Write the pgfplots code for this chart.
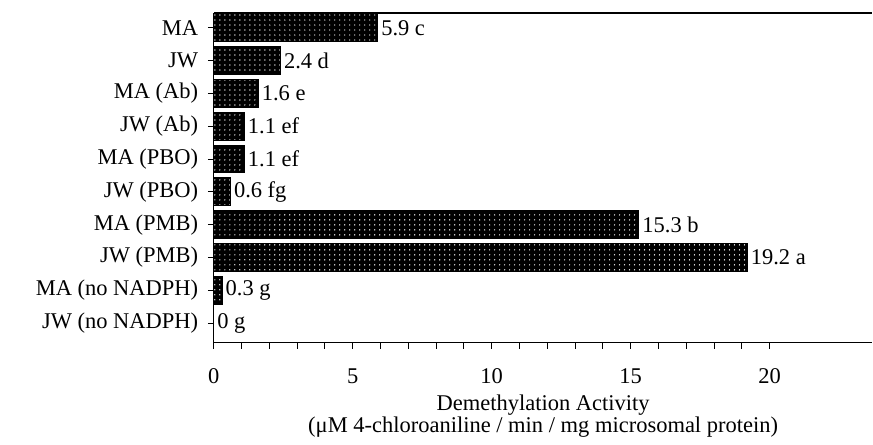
\documentclass[border=0pt]{standalone}
\usepackage{pgfplots}
\pgfplotsset{compat=1.18}
\usepackage{pgfplotstable}
\usepackage{fontspec}
\setmainfont{Liberation Serif}
\usetikzlibrary{patterns.meta}
\pgfplotstableread[col sep=comma]{
y,v,lab
9,5.9,5.9 c
8,2.4,2.4 d
7,1.6,1.6 e
6,1.1,1.1 ef
5,1.1,1.1 ef
4,0.6,0.6 fg
3,15.3,15.3 b
2,19.2,19.2 a
1,0.3,0.3 g
0,0,0 g
}\datatable
\begin{document}
\fontsize{22.5pt}{24pt}\selectfont
\begin{tikzpicture}
\begin{axis}[
  scale only axis,
  width=659pt, height=330pt,
  xmin=0, xmax=23.7,
  ymin=-0.6, ymax=9.45,
  axis x line*=bottom, axis y line*=left,
  axis line style={line width=1.2pt},
  xbar, bar width=28pt,
  xtick={0,5,10,15,20},
  minor x tick num=4,
  ytick={0,...,9},
  yticklabels={JW (no NADPH),MA (no NADPH),JW (PMB),MA (PMB),JW (PBO),MA (PBO),JW (Ab),MA (Ab),JW,MA},
  tick align=outside,
  major tick length=6pt, minor tick length=6pt,
  tick style={line width=1pt, black},
  minor tick style={line width=1pt, black},
  every tick label/.append style={font=\fontsize{22.5pt}{24pt}\selectfont},
  /pgf/number format/assume math mode=true,
  xticklabel style={yshift=-12pt},
  yticklabel style={xshift=-2pt},
  xlabel={Demethylation Activity\\(μM 4-chloroaniline / min / mg microsomal protein)},
  xlabel style={align=center, font=\fontsize{22.5pt}{22pt}\selectfont, yshift=4pt},
  point meta=explicit symbolic,
  nodes near coords={\pgfplotspointmeta},
  nodes near coords style={anchor=west, font=\fontsize{22.5pt}{24pt}\selectfont, inner sep=3pt},
  clip=false,
]
\addplot[draw=black, line width=1pt, fill=black,
  postaction={pattern={Dots[radius=0.7pt, distance=5pt]}, pattern color=white}]
  table[x=v, y=y, meta=lab] {\datatable};
\draw[line width=1.2pt] (rel axis cs:0,1) -- (rel axis cs:1,1);
\path ([xshift=-214pt,yshift=-95pt]rel axis cs:0,0) rectangle ([yshift=13pt]rel axis cs:1,1);
\end{axis}
\end{tikzpicture}
\end{document}
